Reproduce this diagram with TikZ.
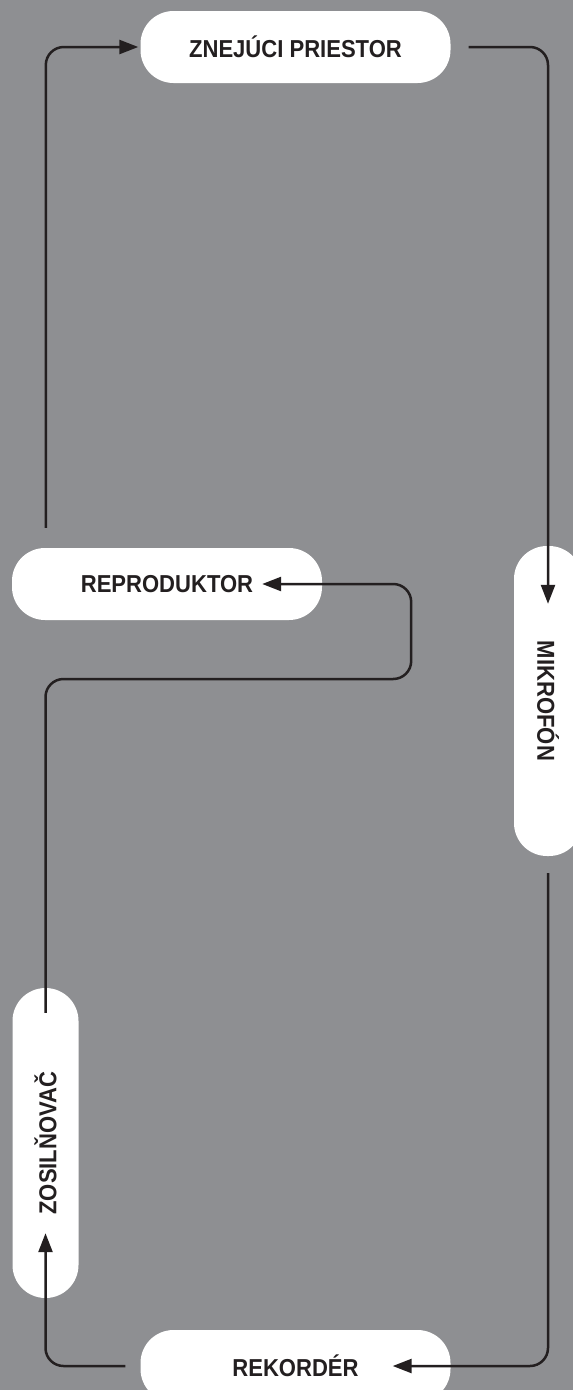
\documentclass[tikz,border=0pt]{standalone}
\usepackage{fontspec}
\usepackage{tikz}
\usetikzlibrary{arrows.meta}
\newfontfamily\stagefont[FakeStretch=0.9]{Liberation Sans}
\definecolor{bggray}{RGB}{142,143,146}
\definecolor{ink}{RGB}{35,31,32}

\begin{document}
\begin{tikzpicture}[x=1pt,y=-1pt,
    stage/.style={fill=white,rounded corners=33pt,minimum width=310pt,minimum height=72pt,
      inner sep=0pt,text=ink,font=\stagefont\bfseries\fontsize{24.5}{24.5}\selectfont},
    flow/.style={draw=ink,line width=2.5pt,rounded corners=18pt,
      -{Triangle[length=19pt,width=14pt]}}]
      \clip (0,0) rectangle (573,1390);
      \fill[bggray] (0,0) rectangle (573,1390);
      \node[stage] (space) at (295.5,47) {ZNEJÚCI PRIESTOR};
      \node[stage,rotate=-90,minimum height=68pt] (mic) at (548,701) {MIKROFÓN};
      \node[stage] (rec) at (295.5,1366) {REKORDÉR};
      \node[stage,rotate=90,minimum height=66pt] (amp) at (45.5,1143) {ZOSILŇOVAČ};
      \node[stage] (spk) at (167,584) {REPRODUKTOR};
      \draw[flow] ([xshift=18pt]space.east) -| ([yshift=-58pt]mic.west);
      \draw[flow] ([yshift=-17pt]mic.east) |- ([xshift=-58pt]rec.east);
      \draw[flow] ([xshift=-15pt]rec.west) -| ([yshift=65pt]amp.west);
      \draw[flow] ([yshift=-25pt]amp.east) |- ([xshift=89pt,yshift=-95pt]spk.east)
        |- ([xshift=-60pt]spk.east);
      \draw[flow] ([xshift=34pt,yshift=20pt]spk.north west) |- ([xshift=-2pt]space.west);
\end{tikzpicture}
\end{document}
